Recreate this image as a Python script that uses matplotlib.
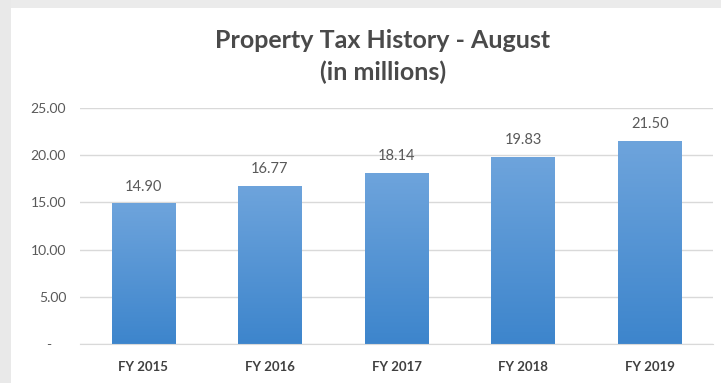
import numpy as np
import matplotlib.pyplot as plt
from matplotlib.patches import Rectangle

# property tax collected in August, in millions
years = ["FY 2015", "FY 2016", "FY 2017", "FY 2018", "FY 2019"]
tax = [14.90, 16.77, 18.14, 19.83, 21.50]
yticks = [0, 5, 10, 15, 20, 25]
ytick_labels = ["-    ", "5.00", "10.00", "15.00", "20.00", "25.00"]

plt.rcParams['font.family'] = ['Lato', 'DejaVu Sans']

W, H = 721, 383
fig = plt.figure(figsize=(W / 100, H / 100), dpi=100)
fig.patch.set_facecolor('white')

# grey frame along top and left edge
fig.patches.append(Rectangle((0, 1 - 8 / H), 1, 8 / H, transform=fig.transFigure,
                             facecolor='#ebebeb', edgecolor='none', zorder=0))
fig.patches.append(Rectangle((0, 0), 11 / W, 1, transform=fig.transFigure,
                             facecolor='#e9e9e9', edgecolor='none', zorder=0))

ax = fig.add_axes([80 / W, (H - 344) / H, (713 - 80) / W, (344 - 108) / H])
x = np.arange(len(years))
bars = ax.bar(x, tax, width=0.5, color='none', edgecolor='none', zorder=2)

# vertical gradient fill, lighter at the top
grad = np.linspace(0, 1, 256).reshape(-1, 1)
top = np.array([0x6e, 0xa4, 0xdc]) / 255
bot = np.array([0x3d, 0x85, 0xcc]) / 255
img = (bot[None, None, :] * (1 - grad[..., None]) + top[None, None, :] * grad[..., None])
for b in bars:
    x0, w, h = b.get_x(), b.get_width(), b.get_height()
    im = ax.imshow(img, extent=[x0, x0 + w, 0, h], origin='lower', aspect='auto', zorder=2)
    im.set_clip_path(b)
    ax.annotate(f"{h:.2f}", (x0 + w / 2, h), xytext=(0, 7), textcoords='offset points',
                ha='center', va='bottom', fontsize=10.5, color='#595959')

ax.set_xlim(-0.5, len(years) - 0.5)
ax.set_ylim(0, 25)
ax.set_yticks(yticks)
ax.set_yticklabels(ytick_labels)
ax.set_xticks(x)
ax.set_xticklabels(years, fontweight='bold')
ax.tick_params(axis='y', length=0, pad=10, labelsize=10, labelcolor='#595959')
ax.tick_params(axis='x', length=0, pad=12, labelsize=9.5, labelcolor='#404040')
ax.grid(axis='y', color='#d9d9d9', linewidth=1, zorder=0)
ax.set_axisbelow(True)
for s in ax.spines.values():
    s.set_visible(False)
ax.spines['bottom'].set_visible(True)
ax.spines['bottom'].set_color('#d9d9d9')

fig.text(383 / W, 1 - 40 / H, "Property Tax History - August", ha='center', va='center',
         fontsize=18, fontweight='bold', color='#4a4a4a')
fig.text(383 / W, 1 - 72 / H, "(in millions)", ha='center', va='center',
         fontsize=18, fontweight='bold', color='#4a4a4a')

fig.savefig('out.png', dpi=100)
